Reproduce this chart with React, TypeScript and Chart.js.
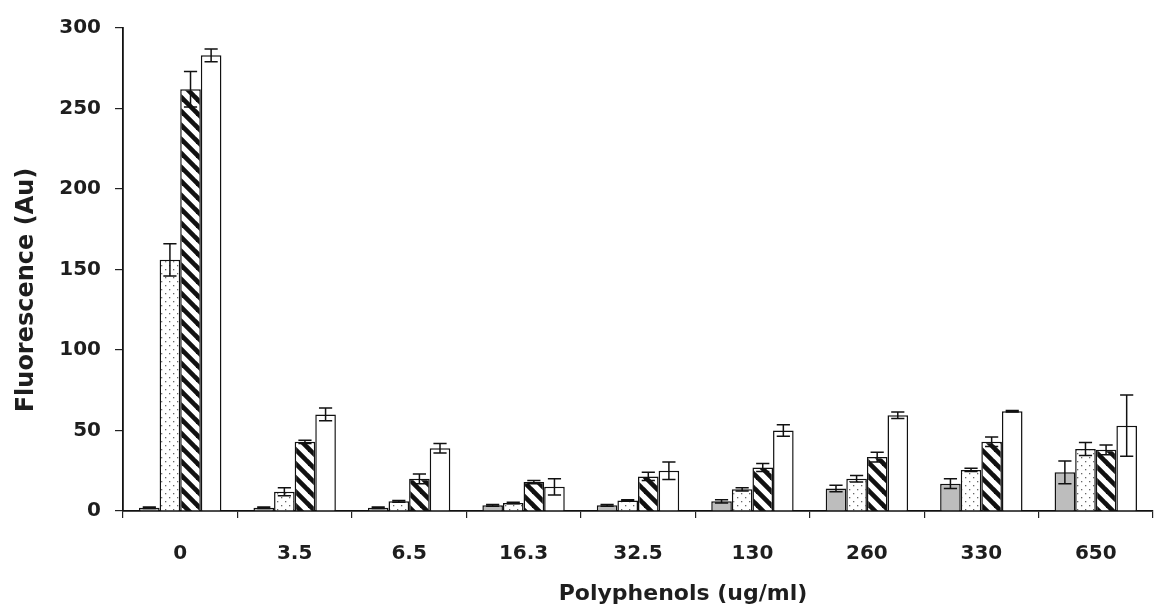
import React, { useEffect, useRef } from "react";
import { Chart, registerables } from "chart.js";

Chart.register(...registerables);

const categories = ["0", "3.5", "6.5", "16.3", "32.5", "130", "260", "330", "650"];
const greyValues = [2, 2, 2, 3.5, 3.5, 6, 14, 17, 24];
const greyErrors = [0.5, 0.5, 0.5, 0.5, 0.5, 1, 2, 3, 7];
const dottedValues = [156, 12, 6, 5, 6.5, 13.5, 20, 25.5, 38.5];
const dottedErrors = [10, 2.5, 0.5, 0.5, 0.5, 1, 2, 1, 4];
const hatchedValues = [262, 43, 20, 18, 21.5, 27, 33.5, 43, 38];
const hatchedErrors = [11, 1, 3, 1, 2.5, 2.5, 3, 3, 3];
const whiteValues = [283, 60, 39, 15, 25, 50, 59.5, 62, 53];
const whiteErrors = [4, 4, 3, 5, 5.5, 3.5, 2, 0.5, 19];
const yTicks = [0, 50, 100, 150, 200, 250, 300];
const xTitle = "Polyphenols (ug/ml)";
const yTitle = "Fluorescence (Au)";

const FONT = "'DejaVu Sans', 'Liberation Sans', sans-serif";
const TEXT = "#1e1e1e";

function makeDotPattern(): CanvasPattern | string {
  const c = document.createElement("canvas");
  c.width = 8;
  c.height = 8;
  const g = c.getContext("2d");
  if (!g) return "#fff";
  g.fillStyle = "#ffffff";
  g.fillRect(0, 0, 8, 8);
  g.fillStyle = "#666";
  g.fillRect(1, 1, 1.3, 1.3);
  g.fillRect(5, 5, 1.3, 1.3);
  return g.createPattern(c, "repeat") || "#fff";
}

function makeHatchPattern(): CanvasPattern | string {
  const s = 14;
  const c = document.createElement("canvas");
  c.width = s;
  c.height = s;
  const g = c.getContext("2d");
  if (!g) return "#000";
  g.fillStyle = "#ffffff";
  g.fillRect(0, 0, s, s);
  g.strokeStyle = "#111";
  g.lineWidth = 4.6;
  g.lineCap = "square";
  for (const off of [-s, 0, s]) {
    g.beginPath();
    g.moveTo(0, off);
    g.lineTo(s, s + off);
    g.stroke();
  }
  return g.createPattern(c, "repeat") || "#000";
}

const errorsByDataset = [greyErrors, dottedErrors, hatchedErrors, whiteErrors];

const errorBarPlugin = {
  id: "errorBars",
  afterDatasetsDraw(chart: any) {
    const ctx = chart.ctx;
    const yScale = chart.scales.y;
    ctx.save();
    ctx.strokeStyle = "#111";
    ctx.lineWidth = 1.5;
    chart.data.datasets.forEach((ds: any, di: number) => {
      const meta = chart.getDatasetMeta(di);
      const errs = errorsByDataset[di];
      meta.data.forEach((el: any, i: number) => {
        const v = ds.data[i];
        const e = errs[i];
        const x = el.x;
        const yt = yScale.getPixelForValue(v + e);
        const yb = yScale.getPixelForValue(Math.max(0, v - e));
        const half = Math.max(5, el.width * 0.32);
        ctx.beginPath();
        ctx.moveTo(x, yt);
        ctx.lineTo(x, yb);
        ctx.moveTo(x - half, yt);
        ctx.lineTo(x + half, yt);
        ctx.moveTo(x - half, yb);
        ctx.lineTo(x + half, yb);
        ctx.stroke();
      });
    });
    ctx.restore();
  },
};

const axisTitlePlugin = {
  id: "axisTitles",
  afterDraw(chart: any) {
    const ctx = chart.ctx;
    ctx.save();
    ctx.fillStyle = TEXT;
    ctx.textAlign = "center";
    ctx.textBaseline = "middle";
    ctx.font = `bold 22px ${FONT}`;
    ctx.fillText(xTitle, 683, 594);
    ctx.translate(27, 290);
    ctx.rotate(-Math.PI / 2);
    ctx.font = `bold 24px ${FONT}`;
    ctx.fillText(yTitle, 0, 0);
    ctx.restore();
  },
};

export default function App() {
  const ref = useRef<HTMLCanvasElement | null>(null);

  useEffect(() => {
    if (!ref.current) return;
    const dot = makeDotPattern();
    const hatch = makeHatchPattern();
    const common = {
      borderColor: "#111",
      borderWidth: 1.5,
      categoryPercentage: 0.72,
      barPercentage: 1.0,
    };
    const chart = new Chart(ref.current, {
      type: "bar",
      data: {
        labels: categories,
        datasets: [
          { label: "A", data: greyValues, backgroundColor: "#bdbdbd", ...common },
          { label: "B", data: dottedValues, backgroundColor: dot as any, ...common },
          { label: "C", data: hatchedValues, backgroundColor: hatch as any, ...common },
          { label: "D", data: whiteValues, backgroundColor: "#ffffff", ...common },
        ],
      },
      options: {
        responsive: false,
        animation: false,
        layout: { padding: { top: 28, right: 2, left: 0, bottom: 0 } },
        plugins: {
          legend: { display: false },
          tooltip: { enabled: false },
        },
        scales: {
          x: {
            grid: {
              offset: true,
              drawOnChartArea: false,
              drawTicks: true,
              tickLength: 7,
              color: "#222",
              lineWidth: 1.2,
            },
            border: { color: "#111", width: 1.8 },
            ticks: {
              color: TEXT,
              font: { family: FONT, size: 20, weight: "bold" },
              padding: 24,
            },
            afterFit(scale: any) {
              scale.height = 98;
            },
          },
          y: {
            min: 0,
            max: 300,
            afterBuildTicks(scale: any) {
              scale.ticks = yTicks.map((v) => ({ value: v }));
            },
            grid: {
              drawOnChartArea: false,
              drawTicks: true,
              tickLength: 8,
              color: "#222",
              lineWidth: 1.2,
            },
            border: { color: "#111", width: 1.8 },
            ticks: {
              color: TEXT,
              font: { family: FONT, size: 20, weight: "bold" },
              padding: 14,
            },
            afterFit(scale: any) {
              scale.width = 123;
            },
          },
        },
      },
      plugins: [errorBarPlugin, axisTitlePlugin],
    });
    return () => chart.destroy();
  }, []);

  return (
    <div style={{ position: "fixed", left: 0, top: 0, width: 1155, height: 609, background: "#fff" }}>
      <canvas ref={ref} width={1155} height={609} style={{ display: "block" }} />
    </div>
  );
}
